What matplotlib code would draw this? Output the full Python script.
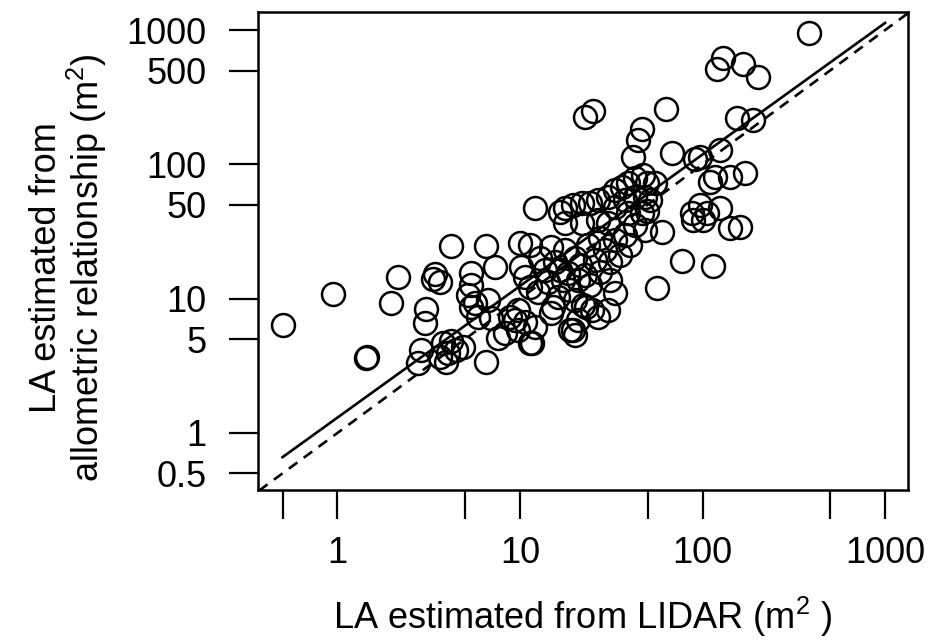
import matplotlib
matplotlib.use("Agg")
import matplotlib.pyplot as plt
from matplotlib.ticker import FixedLocator, FixedFormatter, NullLocator

plt.rcParams['font.family'] = ['Liberation Sans', 'DejaVu Sans']
plt.rcParams['mathtext.default'] = 'regular'

# LA estimated from LIDAR (m2)
lidar_la = [
    0.50, 0.945, 1.43, 1.45, 1.96, 2.15, 3.42, 3.65, 3.34, 3.05,
    3.02, 4.19, 6.51, 2.87, 2.76, 3.79, 4.19, 4.03, 3.65, 3.93,
    4.87, 4.46, 6.51, 5.39, 7.29, 5.19, 5.67, 6.68, 5.89, 5.39,
    7.57, 8.28, 9.40, 8.82, 9.75, 10.65, 11.35, 12.08, 10.0, 11.35,
    10.1, 10.65, 11.35, 12.55, 14.8, 15.2, 14.8, 17.7, 20.0, 18.3,
    20.8, 19.5, 20.0, 20.8, 23.0, 12.1, 16.6, 17.7, 19.5, 21.9,
    24.2, 26.8, 30.4, 33.2, 36.2, 39.1, 42.7, 47.2, 49.7, 33.2,
    37.6, 42.7, 48.4, 39.1, 46.6, 17.7, 21.9, 26.8, 30.4, 22.7,
    25.1, 46.6, 44.3, 41.6, 63.1, 68.1, 91.0, 96.9, 124.7, 117,
    141.5, 171, 110, 96.9, 87.5, 106, 124.7, 141.5, 160, 60.0,
    49.7, 48.4, 77.3, 114, 56.3, 33.2, 30.4, 26.8, 22.2, 24.8,
    18.8, 11.6, 9.75, 154.5, 189, 129.5, 120, 166.7, 201.5, 383.5,
    88.7, 100.7, 15.6, 16.6, 17.2, 18.8, 21.3, 22.7, 24.2, 25.8,
    27.4, 29.2, 31.1, 33.2, 35.3, 37.6, 40.1, 27.4, 23.6, 13.7,
    14.2, 12.9, 16.2, 20.0, 42.7, 51.5, 54.9, 31.1, 5.39, 6.93,
]

# LA estimated from allometric relationship (m2)
allo_la = [
    6.37, 10.8, 3.62, 3.68, 9.29, 14.5, 15.3, 13.3, 14.0, 8.38,
    6.59, 24.7, 24.7, 4.15, 3.32, 4.68, 4.84, 3.94, 3.68, 3.38,
    4.37, 4.15, 3.38, 15.5, 17.2, 10.7, 9.29, 9.78, 7.31, 8.67,
    5.10, 5.55, 6.94, 7.31, 8.24, 6.71, 4.68, 6.16, 26.0, 25.1,
    17.2, 14.5, 12.2, 11.2, 24.3, 8.67, 7.83, 23.1, 20.1, 15.5,
    13.8, 5.85, 5.37, 6.94, 8.67, 47.4, 44.2, 47.4, 49.9, 51.6,
    51.6, 54.3, 57.2, 64.5, 67.9, 72.7, 79.2, 83.4, 72.7, 48.2,
    54.3, 57.2, 57.2, 43.5, 43.5, 36.6, 36.6, 38.6, 36.6, 225,
    250, 183.5, 152, 113.5, 259, 121.6, 109.7, 113.5, 128, 80.5,
    80.5, 86.3, 73.9, 49.9, 43.5, 43.5, 47.4, 33.6, 34.2, 31.4,
    45.0, 32.5, 19.1, 17.5, 12.0, 11.0, 8.24, 7.31, 8.98, 8.24,
    5.85, 4.68, 5.85, 221, 214, 620, 513, 560, 448, 951,
    38.6, 38.6, 18.8, 16.4, 13.8, 11.6, 17.8, 15.0, 12.6, 19.4,
    15.8, 23.1, 18.8, 27.4, 21.2, 29.8, 25.1, 28.3, 25.1, 16.4,
    13.3, 20.1, 10.3, 9.78, 35.4, 54.3, 72.7, 13.8, 12.6, 7.18,
]

# fitted log-log regression, read at its two ends
fit_x = [0.5, 1000]
fit_y = [0.66, 1130]

x_ticks = [0.5, 1, 5, 10, 50, 100, 500, 1000]
x_labels = ["", "1", "", "10", "", "100", "", "1000"]
y_ticks = [0.5, 1, 5, 10, 50, 100, 500, 1000]
y_labels = ["0.5", "1", "5", "10", "50", "100", "500", "1000"]

fig = plt.figure(figsize=(9.38, 6.43), dpi=100)
ax = fig.add_axes([258/938, 1 - 490/643, 650/938, 478/643])

ax.set_xscale("log")
ax.set_yscale("log")
ax.set_xlim(0.367, 1336)
ax.set_ylim(0.376, 1364)

ax.plot([0.1, 5000], [0.1, 5000], color="black", lw=1.9, ls=(0, (4, 3)))
ax.plot(fit_x, fit_y, color="black", lw=1.9)
ax.plot(lidar_la, allo_la, ls="none", marker="o", ms=16.5, mfc="none",
        mec="black", mew=1.8)

ax.xaxis.set_major_locator(FixedLocator(x_ticks))
ax.xaxis.set_major_formatter(FixedFormatter(x_labels))
ax.xaxis.set_minor_locator(NullLocator())
ax.yaxis.set_major_locator(FixedLocator(y_ticks))
ax.yaxis.set_major_formatter(FixedFormatter(y_labels))
ax.yaxis.set_minor_locator(NullLocator())
ax.tick_params(axis="both", direction="out", length=21, width=1.6,
               labelsize=26, color="black")
ax.tick_params(axis="x", pad=12)
ax.tick_params(axis="y", pad=16)
for s in ax.spines.values():
    s.set_linewidth(1.8)

ax.set_xlabel("LA estimated from LIDAR (m$^{2}$ )", fontsize=26, labelpad=17)
fig.text(69/938, 1 - 268/643,
         "LA estimated from\nallometric relationship (m$^{2}$)",
         rotation=90, ha="center", va="center", fontsize=26,
         linespacing=1.05)

fig.savefig("out.png", dpi=100)
